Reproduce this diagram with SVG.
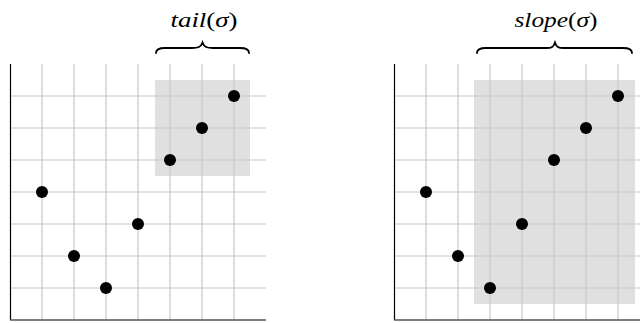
<svg xmlns="http://www.w3.org/2000/svg" width="640" height="323" viewBox="0 0 640 323">
<style>
.grid{stroke:#c8c8c8;stroke-width:1.2;fill:none}
.hl{fill:#e0e0e0;stroke:none}
.axy{stroke:#000;stroke-width:1.2}
.axx{stroke:#555;stroke-width:1.5}
.dot{fill:#000}
.brace{fill:none;stroke:#000;stroke-width:1.8;stroke-linecap:round}
.lbl{font-family:"Liberation Serif","DejaVu Serif",serif;font-style:italic;font-size:22px;fill:#000}
.up{font-style:normal}
</style>
<defs>
<g id="gridlines">
<path class="grid" d="M42,64V320M74,64V320M106,64V320M138,64V320M170,64V320M202,64V320M234,64V320M10,96H266M10,128H266M10,160H266M10,192H266M10,224H266M10,256H266M10,288H266"/>
</g>
</defs>
<g id="left-plot">
<rect class="hl" x="155" y="80" width="95" height="96"/>
<use href="#gridlines"/>
<line class="axy" x1="10.5" y1="64" x2="10.5" y2="320"/>
<line class="axx" x1="10" y1="320" x2="266" y2="320"/>
<circle class="dot" cx="42" cy="192" r="6"/>
<circle class="dot" cx="74" cy="256" r="6"/>
<circle class="dot" cx="106" cy="288" r="6"/>
<circle class="dot" cx="138" cy="224" r="6"/>
<circle class="dot" cx="170" cy="160" r="6"/>
<circle class="dot" cx="202" cy="128" r="6"/>
<circle class="dot" cx="234" cy="96" r="6"/>
</g>
<g id="tail-label">
<path class="brace" d="M156,53 C156,49 159,48 165,48 L192,48 C198,48 201,47 202.5,42.5 C204,47 207,48 213,48 L240,48 C246,48 249,49 249,53"/>
<text class="lbl" x="204" y="27" text-anchor="middle" textLength="67" lengthAdjust="spacingAndGlyphs">tail<tspan class="up">(</tspan>σ<tspan class="up">)</tspan></text>
</g>
<g id="right-plot" transform="translate(384,0)">
<rect class="hl" x="90" y="80" width="161" height="224"/>
<use href="#gridlines"/>
<line class="axy" x1="10.5" y1="64" x2="10.5" y2="320"/>
<line class="axx" x1="10" y1="320" x2="266" y2="320"/>
<circle class="dot" cx="42" cy="192" r="6"/>
<circle class="dot" cx="74" cy="256" r="6"/>
<circle class="dot" cx="106" cy="288" r="6"/>
<circle class="dot" cx="138" cy="224" r="6"/>
<circle class="dot" cx="170" cy="160" r="6"/>
<circle class="dot" cx="202" cy="128" r="6"/>
<circle class="dot" cx="234" cy="96" r="6"/>
</g>
<g id="slope-label">
<path class="brace" d="M477,53 C477,49 480,48 486,48 L546,48 C552,48 553.5,47 555,42.5 C556.5,47 558,48 564,48 L623,48 C629,48 632,49 632,53"/>
<text class="lbl" x="556" y="27" text-anchor="middle" textLength="83" lengthAdjust="spacingAndGlyphs">slope<tspan class="up">(</tspan>σ<tspan class="up">)</tspan></text>
</g>
</svg>
